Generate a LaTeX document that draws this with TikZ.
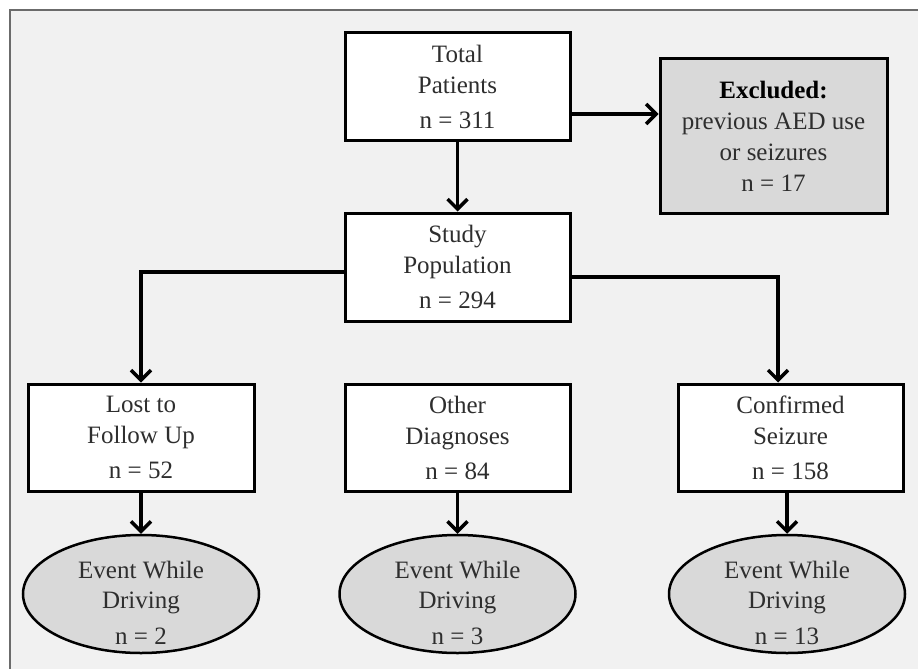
\documentclass[tikz,border=0pt]{standalone}
\usepackage{fontspec}
\setmainfont{Liberation Serif}
\usetikzlibrary{arrows.meta,shapes.geometric}
\definecolor{bggray}{HTML}{F1F1F1}
\definecolor{framegray}{HTML}{6B6B6B}
\definecolor{fillgray}{HTML}{D9D9D9}
\definecolor{txtgray}{HTML}{2E2E2E}
\begin{document}
\begin{tikzpicture}[x=1pt,y=-1pt,
  box/.style={draw=black, line width=3pt, fill=white, minimum width=225pt,
    minimum height=107pt, align=center, inner sep=0pt, text=txtgray,
    font=\fontsize{25}{31}\selectfont},
  ell/.style={ellipse, draw=black, line width=2.5pt, fill=fillgray,
    minimum width=236pt, minimum height=118pt, inner sep=0pt},
  etxt/.style={align=center, inner sep=0pt, text=txtgray,
    font=\fontsize{25}{30}\selectfont},
  arr/.style={line width=3.5pt, -{Straight Barb[length=10pt,width=20pt]}}
]
\fill[white] (0,0) rectangle (918,669);
\useasboundingbox (0,0) rectangle (918,669);
\fill[bggray] (10,10) rectangle (918,669);
\draw[framegray, line width=2pt] (10,669) -- (10,10) -- (918,10);

\node[box] (total) at (457.5,86.5) {Total\\Patients\\[4pt]n = 311};
\node[box, fill=fillgray, minimum width=227pt, minimum height=154pt] (excl) at (773.5,136)
  {{\color{black}\bfseries Excluded:}\\previous AED use\\or seizures\\n = 17};
\node[box, minimum height=108pt] (study) at (457.5,267) {Study\\Population\\[4pt]n = 294};
\node[box, minimum width=226pt] (lost) at (141,437.5) {Lost to\\Follow Up\\[4pt]n = 52};
\node[box] (other) at (457.5,437.5) {Other\\Diagnoses\\[4pt]n = 84};
\node[box] (conf) at (790.5,437.5) {Confirmed\\Seizure\\[4pt]n = 158};

\node[ell] (e1) at (141,594) {};
\node[ell] (e2) at (457.5,594) {};
\node[ell] (e3) at (787,594) {};
\node[etxt] (e1t) at (141,603) {Event While\\Driving\\[6pt]n = 2};
\node[etxt] (e2t) at (457.5,603) {Event While\\Driving\\[6pt]n = 3};
\node[etxt] (e3t) at (787,603) {Event While\\Driving\\[6pt]n = 13};

\draw[arr] (total) -- (study);
\coordinate (t1) at ([yshift=-27.5pt]total.east);
\draw[arr] (t1) -- (t1 -| excl.west);
\coordinate (s1) at ([yshift=-5pt]study.west);
\draw[arr] (s1) -| (lost.north);
\coordinate (s2) at ([yshift=-10pt]study.east);
\coordinate (c1) at ([xshift=-12.5pt]conf.north);
\draw[arr] (s2) -| (c1);
\draw[arr] (lost) -- (e1);
\draw[arr] (other) -- (e2);
\draw[arr] (conf.south -| e3.north) -- (e3.north);
\end{tikzpicture}
\end{document}
